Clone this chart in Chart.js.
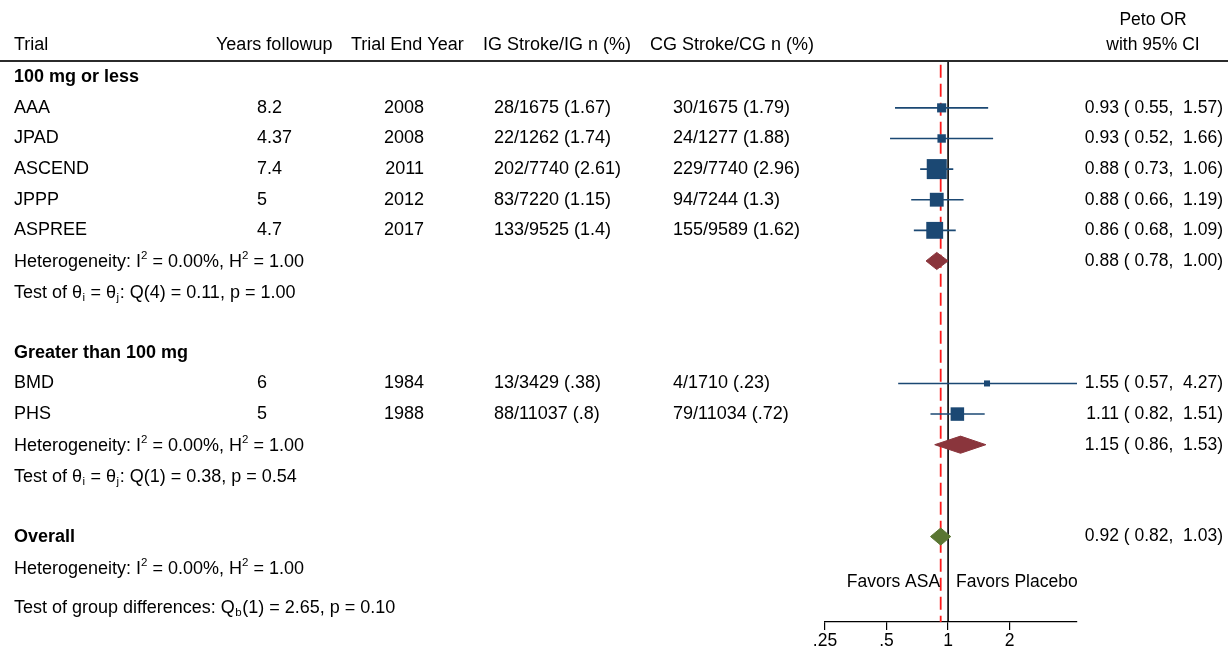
<!DOCTYPE html>
<html>
<head>
<meta charset="utf-8">
<script src="https://cdn.jsdelivr.net/npm/chart.js@4.4.1/dist/chart.umd.min.js"></script>
<style>
  html, body { margin: 0; padding: 0; background: #ffffff; }
  canvas { display: block; }
</style>
</head>
<body>
<canvas id="forest" width="1228" height="650"></canvas>
<script>
// ---- Study data -------------------------------------------------------
const trials        = ['AAA', 'JPAD', 'ASCEND', 'JPPP', 'ASPREE', 'BMD', 'PHS'];
const trialGroup    = [0, 0, 0, 0, 0, 1, 1];
const yearsFollowup = ['8.2', '4.37', '7.4', '5', '4.7', '6', '5'];
const trialEndYear  = ['2008', '2008', '2011', '2012', '2017', '1984', '1988'];
const igStroke      = ['28/1675 (1.67)', '22/1262 (1.74)', '202/7740 (2.61)', '83/7220 (1.15)',
                       '133/9525 (1.4)', '13/3429 (.38)', '88/11037 (.8)'];
const cgStroke      = ['30/1675 (1.79)', '24/1277 (1.88)', '229/7740 (2.96)', '94/7244 (1.3)',
                       '155/9589 (1.62)', '4/1710 (.23)', '79/11034 (.72)'];
const orEst         = [0.93, 0.93, 0.88, 0.88, 0.86, 1.55, 1.11];
const orLow         = [0.55, 0.52, 0.73, 0.66, 0.68, 0.57, 0.82];
const orHigh        = [1.57, 1.66, 1.06, 1.19, 1.09, 4.27, 1.51];
const weightPct     = [4.9, 3.9, 36.5, 15.0, 24.4, 1.3, 14.1];

// ---- Subgroup and overall summaries ------------------------------------
const groupNames  = ['100 mg or less', 'Greater than 100 mg'];
const groupEst    = [0.88, 1.15];
const groupLow    = [0.78, 0.86];
const groupHigh   = [1.00, 1.53];
const groupI2     = ['0.00%', '0.00%'];
const groupH2     = ['1.00', '1.00'];
const groupQdf    = ['4', '1'];
const groupQ      = ['0.11', '0.38'];
const groupP      = ['1.00', '0.54'];

const overallEst  = 0.92;
const overallLow  = 0.82;
const overallHigh = 1.03;
const overallI2   = '0.00%';
const overallH2   = '1.00';
const groupDiffQ  = '2.65';
const groupDiffP  = '0.10';

// ---- Axis --------------------------------------------------------------
const axisTicks      = [0.25, 0.5, 1, 2];
const axisTickLabels = ['.25', '.5', '1', '2'];
const axisMin = 0.25;
const axisMax = 4.27;

// ---- Styling -----------------------------------------------------------
const FONT_FAMILY = '"Liberation Sans", Arial, Helvetica, sans-serif';
const FONT_SIZE = 18;       // table text
const FONT_SIZE_R = 17.5;   // estimate column, axis and direction labels
const BLUE  = '#1b4873';
const RED   = '#8a353c';
const GREEN = '#5a7633';

// ---- Row layout (one row per line of the table) ------------------------
const trialRow = [];
const groupHeaderRow = [];
const groupSummaryRow = [];
const groupTestRow = [];
let r = 0;
groupNames.forEach((g, gi) => {
  groupHeaderRow[gi] = r++;
  trials.forEach((t, ti) => { if (trialGroup[ti] === gi) trialRow[ti] = r++; });
  groupSummaryRow[gi] = r++;
  groupTestRow[gi] = r++;
  r++;                                  // blank spacer row
});
const overallRow = r;
const overallHetRow = r + 1;
const favorsRow = r + 1.5;
const groupDiffRow = r + 2.27;
const rowTop = -0.53;
const rowBottom = r + 2.79;

const fmt = v => v.toFixed(2);
const ciText = (e, lo, hi) => fmt(e) + ' ( ' + fmt(lo) + ',  ' + fmt(hi) + ')';

// ---- Datasets ----------------------------------------------------------
const datasets = [];

// study squares, area following the study weight
datasets.push({
  label: 'studies',
  data: trials.map((t, i) => ({ x: orEst[i], y: trialRow[i] })),
  pointStyle: 'rect',
  pointRadius: weightPct.map(w => (2.8 + 2.85 * Math.sqrt(w)) / Math.SQRT2),
  pointBackgroundColor: BLUE,
  pointBorderWidth: 0,
  showLine: false,
  order: 0
});

// diamonds for subgroup and overall pooled estimates
const diamondHalf = 0.28;
function diamond(est, lo, hi, row, color) {
  return {
    label: 'pooled',
    data: [
      { x: lo, y: row }, { x: est, y: row - diamondHalf },
      { x: hi, y: row }, { x: est, y: row + diamondHalf }, { x: lo, y: row }
    ],
    showLine: true,
    fill: 'shape',
    backgroundColor: color,
    borderColor: color,
    borderWidth: 1,
    pointRadius: 0,
    tension: 0,
    order: 0
  };
}
groupNames.forEach((g, gi) => {
  datasets.push(diamond(groupEst[gi], groupLow[gi], groupHigh[gi], groupSummaryRow[gi], RED));
});
datasets.push(diamond(overallEst, overallLow, overallHigh, overallRow, GREEN));

// confidence interval whiskers
trials.forEach((t, i) => {
  datasets.push({
    label: t + ' CI',
    data: [{ x: orLow[i], y: trialRow[i] }, { x: orHigh[i], y: trialRow[i] }],
    showLine: true,
    borderColor: BLUE,
    borderWidth: 1.6,
    pointRadius: 0,
    order: 1
  });
});

// line of no effect
datasets.push({
  label: 'no effect',
  data: [{ x: 1, y: rowTop }, { x: 1, y: rowBottom }],
  showLine: true,
  borderColor: '#000000',
  borderWidth: 1.6,
  pointRadius: 0,
  order: 2
});

// overall estimate reference
datasets.push({
  label: 'overall estimate',
  data: [{ x: overallEst, y: rowTop + 0.12 }, { x: overallEst, y: rowBottom }],
  showLine: true,
  borderColor: '#ff1a1a',
  borderWidth: 1.8,
  borderDash: [13, 6],
  pointRadius: 0,
  order: 2
});

// ---- Table text --------------------------------------------------------
function font(size, bold) {
  return (bold ? 'bold ' : '') + size + 'px ' + FONT_FAMILY;
}

// draws text made of normal / superscript / subscript parts
function drawRich(ctx, x, y, parts) {
  const measure = p => {
    ctx.font = p[1] ? font(11.5, false) : font(FONT_SIZE, false);
    return ctx.measureText(p[0]).width;
  };
  let cx = x;
  ctx.textAlign = 'left';
  ctx.textBaseline = 'alphabetic';
  const base = y + 6.5;
  parts.forEach(p => {
    const w = measure(p);
    let dy = 0, pad = 0;
    if (p[1] === 'sup') { dy = -8; }
    if (p[1] === 'sub') { dy = 3; pad = 0.5; }
    ctx.fillText(p[0], cx + pad, base + dy);
    cx += w + 2 * pad;
  });
}

const tablePlugin = {
  id: 'forestTable',
  afterDraw(chart) {
    const ctx = chart.ctx;
    const ys = chart.scales.y;
    const yOf = row => ys.getPixelForValue(row);
    ctx.save();
    ctx.fillStyle = '#000000';

    // header
    ctx.font = font(FONT_SIZE, false);
    ctx.textBaseline = 'middle';
    ctx.textAlign = 'left';
    const headY = 45;
    ctx.fillText('Trial', 14, headY);
    ctx.fillText('Years followup', 216, headY);
    ctx.fillText('Trial End Year', 351, headY);
    ctx.fillText('IG Stroke/IG n (%)', 483, headY);
    ctx.fillText('CG Stroke/CG n (%)', 650, headY);
    ctx.font = font(FONT_SIZE_R, false);
    ctx.textAlign = 'center';
    ctx.fillText('Peto OR', 1153, 20);
    ctx.fillText('with 95% CI', 1153, headY);

    // header rule
    ctx.strokeStyle = '#2b2b2b';
    ctx.lineWidth = 2;
    ctx.beginPath();
    ctx.moveTo(0, 61);
    ctx.lineTo(1228, 61);
    ctx.stroke();

    // group blocks
    groupNames.forEach((g, gi) => {
      ctx.font = font(FONT_SIZE, true);
      ctx.textAlign = 'left';
      ctx.textBaseline = 'middle';
      ctx.fillText(g, 14, yOf(groupHeaderRow[gi]));

      trials.forEach((t, i) => {
        if (trialGroup[i] !== gi) return;
        const y = yOf(trialRow[i]);
        ctx.font = font(FONT_SIZE, false);
        ctx.textAlign = 'left';
        ctx.fillText(t, 14, y);
        ctx.fillText(yearsFollowup[i], 257, y);
        ctx.fillText(igStroke[i], 494, y);
        ctx.fillText(cgStroke[i], 673, y);
        ctx.textAlign = 'right';
        ctx.fillText(trialEndYear[i], 424, y);
        ctx.font = font(FONT_SIZE_R, false);
        ctx.fillText(ciText(orEst[i], orLow[i], orHigh[i]), 1223, y);
      });

      const ys1 = yOf(groupSummaryRow[gi]);
      drawRich(ctx, 14, ys1, [['Heterogeneity: I'], ['2', 'sup'], [' = ' + groupI2[gi] + ', H'], ['2', 'sup'], [' = ' + groupH2[gi]]]);
      ctx.font = font(FONT_SIZE_R, false);
      ctx.textAlign = 'right';
      ctx.textBaseline = 'middle';
      ctx.fillText(ciText(groupEst[gi], groupLow[gi], groupHigh[gi]), 1223, ys1);

      drawRich(ctx, 14, yOf(groupTestRow[gi]), [['Test of θ'], ['i', 'sub'], [' = θ'], ['j', 'sub'],
        [': Q(' + groupQdf[gi] + ') = ' + groupQ[gi] + ', p = ' + groupP[gi]]]);
    });

    // overall block
    ctx.font = font(FONT_SIZE, true);
    ctx.textAlign = 'left';
    ctx.textBaseline = 'middle';
    ctx.fillText('Overall', 14, yOf(overallRow));
    ctx.font = font(FONT_SIZE_R, false);
    ctx.textAlign = 'right';
    ctx.fillText(ciText(overallEst, overallLow, overallHigh), 1223, yOf(overallRow));
    drawRich(ctx, 14, yOf(overallHetRow), [['Heterogeneity: I'], ['2', 'sup'], [' = ' + overallI2 + ', H'], ['2', 'sup'], [' = ' + overallH2]]);
    drawRich(ctx, 14, yOf(groupDiffRow), [['Test of group differences: Q'], ['b', 'sub'], ['(1) = ' + groupDiffQ + ', p = ' + groupDiffP]]);

    // direction labels either side of the line of no effect
    const x1 = chart.scales.x.getPixelForValue(1);
    ctx.font = font(FONT_SIZE_R, false);
    ctx.textBaseline = 'middle';
    ctx.textAlign = 'right';
    ctx.fillText('Favors ASA', x1 - 8, yOf(favorsRow));
    ctx.textAlign = 'left';
    ctx.fillText('Favors Placebo', x1 + 8, yOf(favorsRow));

    ctx.restore();
  }
};

// ---- Chart -------------------------------------------------------------
new Chart(document.getElementById('forest'), {
  type: 'scatter',
  data: { datasets },
  options: {
    responsive: false,
    animation: false,
    events: [],
    layout: { padding: { left: 825, right: 151, top: 61, bottom: -3 } },
    plugins: { legend: { display: false }, tooltip: { enabled: false } },
    scales: {
      x: {
        type: 'logarithmic',
        min: axisMin,
        max: axisMax,
        afterBuildTicks: scale => { scale.ticks = axisTicks.map(v => ({ value: v })); },
        ticks: {
          autoSkip: false,
          maxRotation: 0,
          color: '#000000',
          padding: 1,
          font: { family: FONT_FAMILY, size: FONT_SIZE_R },
          callback: (v) => axisTickLabels[axisTicks.indexOf(v)]
        },
        grid: { drawOnChartArea: false, drawTicks: true, tickLength: 8, color: '#000000', lineWidth: 1.2 },
        border: { display: true, color: '#000000', width: 1.2 }
      },
      y: {
        type: 'linear',
        display: false,
        reverse: true,
        min: rowTop,
        max: rowBottom
      }
    }
  },
  plugins: [tablePlugin]
});
</script>
</body>
</html>
